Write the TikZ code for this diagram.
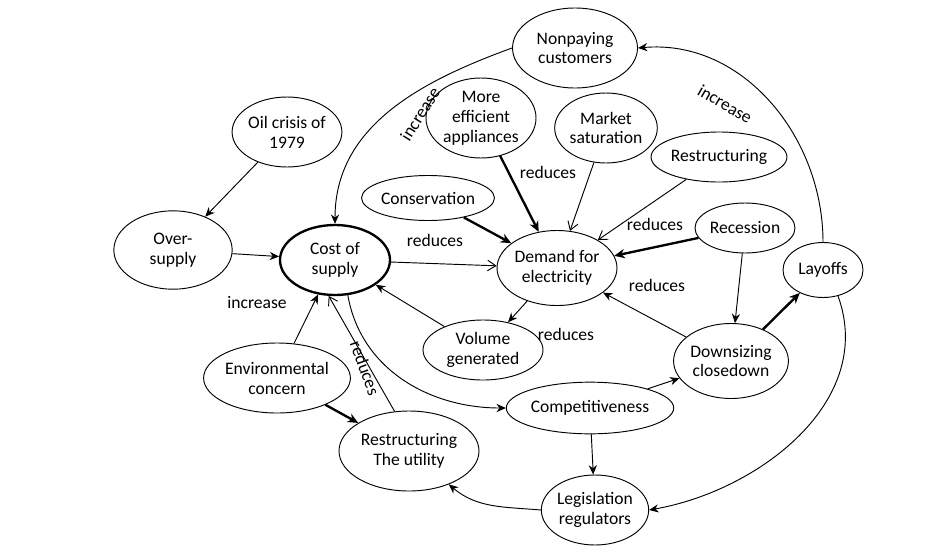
\documentclass[tikz,border=0pt]{standalone}
\usepackage{fontspec}
\setmainfont{Carlito}
\usetikzlibrary{shapes.geometric,arrows.meta}
\tikzset{
  el/.style={draw,ellipse,thick,align=center,inner sep=0pt,font=\fontsize{15}{17}\selectfont},
  lbl/.style={font=\fontsize{15}{17}\selectfont},
  ar/.style={thick,-{Stealth[length=8pt,width=7pt]}},
  op/.style={thick,-{Straight Barb[length=7pt,width=9pt]}},
  bold/.style={line width=2pt,-{Stealth[length=9pt,width=8pt]}},
}
\begin{document}
\begin{tikzpicture}[x=0.03cm,y=-0.03cm]
% frame
\useasboundingbox (0,0) rectangle (952,557);

% nodes
\node[el,minimum width=3.75cm,minimum height=2.4cm] (nonpay) at (575,48) {Nonpaying\\customers};
\node[el,minimum width=2.85cm,minimum height=2.1cm] (oil) at (287,132) {Oil crisis of\\1979};
\node[el,minimum width=3.3cm,minimum height=2.4cm] (effic) at (481,118) {More\\efficient\\appliances};
\node[el,minimum width=3.0cm,minimum height=2.1cm] (market) at (606,128) {Market\\saturation};
\node[el,minimum width=3.75cm,minimum height=1.5cm] (restr) at (719,157) {Restructuring};
\node[el,minimum width=3.6cm,minimum height=1.35cm] (conserv) at (428,198) {Conservation};
\node[el,minimum width=3.0cm,minimum height=1.5cm] (recess) at (745,228) {Recession};
\node[el,minimum width=3.55cm,minimum height=2.35cm] (over) at (173,250) {Over-\\supply};
\node[el,line width=2pt,minimum width=3.3cm,minimum height=2.1cm] (cost) at (335,260) {Cost of\\supply};
\node[el,minimum width=2.85cm,minimum height=2.25cm] (demand) at (557,268) {Demand for\\electricity};
\node[el,minimum width=2.4cm,minimum height=1.65cm] (layoffs) at (823,270) {Layoffs};
\node[el,minimum width=3.6cm,minimum height=1.8cm] (volume) at (483,350) {Volume\\generated};
\node[el,minimum width=3.15cm,minimum height=2.25cm] (downs) at (731,361) {Downsizing\\closedown};
\node[el,minimum width=3.75cm,minimum height=2.1cm] (envir) at (277,378) {Environmental\\concern};
\node[el,minimum width=4.2cm,minimum height=1.55cm] (compet) at (590,408) {Competitiveness};
\node[el,minimum width=4.2cm,minimum height=2.4cm] (utility) at (409,451) {Restructuring\\The utility};
\node[el,minimum width=3.15cm,minimum height=2.1cm] (legis) at (595,510) {Legislation\\regulators};

% connectors
\draw[ar] (oil) -- (over);
\draw[ar] (over) -- (cost);
\draw[bold] (conserv) -- (demand);
\draw[bold] (effic) -- (demand);
\draw[op] (market) -- (demand);
\draw[op] (restr) -- (demand);
\draw[bold] (recess) -- (demand);
\draw[op] (cost) -- (demand);
\draw[ar] (demand) -- (volume);
\draw[ar] (volume) -- (cost);
\draw[ar] (downs) -- (demand);
\draw[ar] (recess) -- (downs);
\draw[bold] (downs) -- (layoffs);
\draw[ar] (layoffs.north) to[out=90,in=5] (nonpay.east);
\draw[ar] (nonpay.west) to[out=200,in=90] (cost.north);
\draw[ar] (layoffs.-60) to[out=-70,in=10] (legis.east);
\draw[ar] (cost.-70) to[out=-80,in=180] (compet.west);
\draw[ar] (compet) -- (downs);
\draw[ar] (compet) -- (legis);
\draw[ar] (legis.west) to[out=175,in=-40] (utility.-40);
\draw[ar] (envir) -- (cost);
\draw[bold] (envir) -- (utility);
\draw[op] (utility.110) -- (cost.-100);

% labels
\node[lbl,rotate=58] (l1) at (420,114) {increase};
\node[lbl,rotate=-30] (l2) at (725,104) {increase};
\node[lbl] (l3) at (548,172) {reduces};
\node[lbl] (l4) at (435,240) {reduces};
\node[lbl] (l5) at (655,224) {reduces};
\node[lbl] (l6) at (657,285) {reduces};
\node[lbl] (l7) at (566,334) {reduces};
\node[lbl] (l8) at (257,303) {increase};
\node[lbl,rotate=-70] (l9) at (365,368) {reduces};
\end{tikzpicture}
\end{document}
